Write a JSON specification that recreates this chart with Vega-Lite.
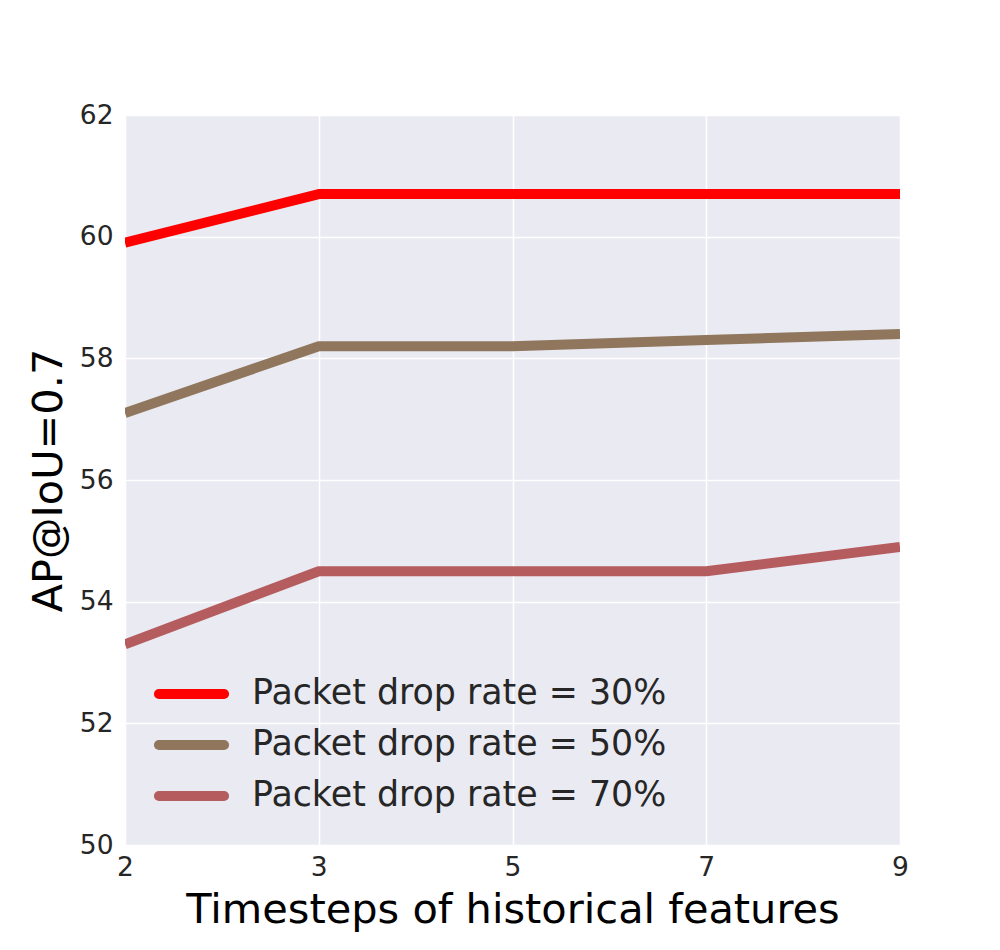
{
  "$schema": "https://vega.github.io/schema/vega-lite/v6.json",
  "width": 775,
  "height": 730,
  "autosize": {"type": "none"},
  "padding": {"left": 125, "top": 115, "right": 100, "bottom": 105},
  "background": "white",
  "config": {
    "font": "DejaVu Sans",
    "view": {"fill": "#EAEAF2", "stroke": null},
    "axis": {"domain": false, "ticks": false, "gridColor": "white", "gridWidth": 1.5, "labelColor": "#262626", "titleColor": "black", "labelFont": "DejaVu Sans", "titleFont": "DejaVu Sans", "titleFontWeight": "normal"}
  },
  "data": {
    "values": [
      {"t": "2", "ap": 59.9, "series": "Packet drop rate = 30%"},
      {"t": "3", "ap": 60.7, "series": "Packet drop rate = 30%"},
      {"t": "5", "ap": 60.7, "series": "Packet drop rate = 30%"},
      {"t": "7", "ap": 60.7, "series": "Packet drop rate = 30%"},
      {"t": "9", "ap": 60.7, "series": "Packet drop rate = 30%"},
      {"t": "2", "ap": 57.1, "series": "Packet drop rate = 50%"},
      {"t": "3", "ap": 58.2, "series": "Packet drop rate = 50%"},
      {"t": "5", "ap": 58.2, "series": "Packet drop rate = 50%"},
      {"t": "7", "ap": 58.3, "series": "Packet drop rate = 50%"},
      {"t": "9", "ap": 58.4, "series": "Packet drop rate = 50%"},
      {"t": "2", "ap": 53.3, "series": "Packet drop rate = 70%"},
      {"t": "3", "ap": 54.5, "series": "Packet drop rate = 70%"},
      {"t": "5", "ap": 54.5, "series": "Packet drop rate = 70%"},
      {"t": "7", "ap": 54.5, "series": "Packet drop rate = 70%"},
      {"t": "9", "ap": 54.9, "series": "Packet drop rate = 70%"}
    ]
  },
  "mark": {"type": "line", "strokeWidth": 10, "clip": true, "strokeJoin": "round"},
  "encoding": {
    "x": {
      "field": "t", "type": "ordinal", "sort": null,
      "scale": {"type": "point", "padding": 0},
      "axis": {"title": "Timesteps of historical features", "labelAngle": 0, "labelFontSize": 26.5, "labelPadding": 9, "titleFontSize": 41.5, "titlePadding": 9, "grid": true}
    },
    "y": {
      "field": "ap", "type": "quantitative",
      "scale": {"domain": [50, 62], "nice": false, "zero": false},
      "axis": {"title": "AP@IoU=0.7", "values": [50, 52, 54, 56, 58, 60, 62], "labelFontSize": 26.5, "labelPadding": 12, "titleFontSize": 41.5, "titlePadding": 9}
    },
    "color": {
      "field": "series", "type": "nominal",
      "scale": {"domain": ["Packet drop rate = 30%", "Packet drop rate = 50%", "Packet drop rate = 70%"], "range": ["#ff0000", "#8f765c", "#b55c5f"]},
      "legend": {
        "title": null,
        "orient": "none",
        "legendX": 46.5,
        "legendY": 559,
        "padding": 0,
        "symbolType": "M-2.17,0H2.17",
        "symbolSize": 900,
        "symbolStrokeWidth": 10,
        "labelFontSize": 34.8,
        "labelColor": "#262626",
        "labelOffset": 40.5,
        "rowPadding": 11,
        "labelLimit": 600,
        "encode": {"symbols": {"update": {"strokeCap": {"value": "round"}, "fill": {"value": "transparent"}}}}
      }
    }
  }
}
